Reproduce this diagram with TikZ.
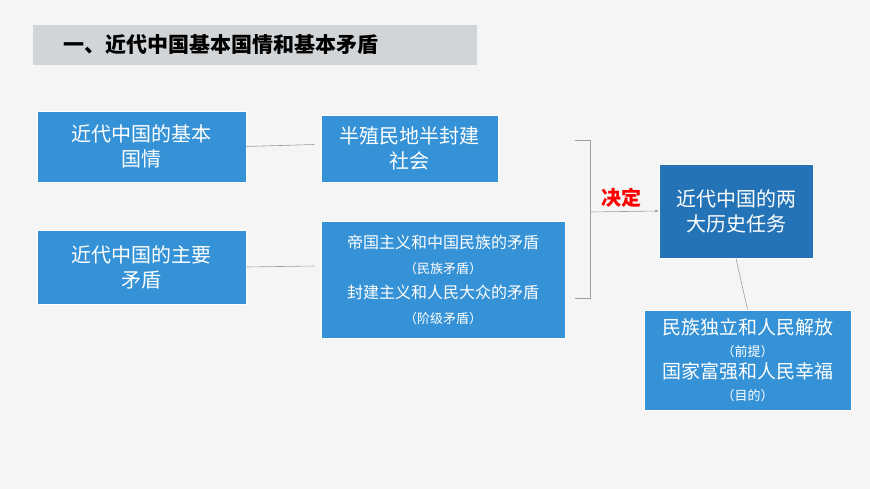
\documentclass[tikz,border=0pt]{standalone}
\usepackage{fontspec}
\setmainfont{Noto Sans CJK SC}
\usetikzlibrary{positioning,arrows.meta}
\definecolor{boxblue}{HTML}{3592D6}
\definecolor{deepblue}{HTML}{2373B6}
\definecolor{bargray}{HTML}{D2D5D8}
\definecolor{linegray}{HTML}{9A9EA2}
\tikzset{
  infobox/.style={fill=boxblue,draw=white,line width=0.8pt,text=white,align=center,inner sep=0pt},
  link/.style={draw=linegray,line width=0.6pt}
}
\begin{document}
\begin{tikzpicture}[x=1pt,y=-1pt,font=\fontsize{20}{25}\selectfont]
\fill[gray!8] (0,0) rectangle (870,489);
\useasboundingbox (0,0) rectangle (870,489);
\node[fill=bargray,minimum width=444pt,minimum height=40pt,anchor=north west,inner sep=0pt] (title) at (33,25) {};
\node[anchor=west,font=\fontsize{21}{25}\selectfont\bfseries] (titletext) at (60,45) {一、近代中国基本国情和基本矛盾};
\node[infobox,minimum width=209pt,minimum height=71pt] (info) at (141.5,146.5) {近代中国的基本\\国情};
\node[infobox,minimum width=209pt,minimum height=74pt] (main) at (141.5,267) {近代中国的主要\\矛盾};
\node[infobox,minimum width=177pt,minimum height=67pt] (society) at (409.5,148.5) {半殖民地半封建\\社会};
\node[infobox,minimum width=244pt,minimum height=117pt,font=\fontsize{16}{25}\selectfont] (conflict) at (443,279.5)
  {帝国主义和中国民族的矛盾\\{\fontsize{13}{16}\selectfont （民族矛盾）}\\封建主义和人民大众的矛盾\\{\fontsize{13}{16}\selectfont （阶级矛盾）}};
\node[infobox,fill=deepblue,minimum width=154pt,minimum height=94pt] (task) at (736,211) {近代中国的两\\大历史任务};
\node[infobox,minimum width=207pt,minimum height=100pt,font=\fontsize{19}{22}\selectfont] (goal) at (747.5,360)
  {民族独立和人民解放\\{\fontsize{13}{16}\selectfont （前提）}\\国家富强和人民幸福\\{\fontsize{13}{16}\selectfont （目的）}};
\coordinate (btop) at (575,140);
\coordinate (bbot) at (575,298);
\coordinate (bmid) at (590,212);
\draw[link] (info.east) -- ++(68,-2);
\draw[link] (main.east) -- ++(68,-1);
\draw[link] (btop) -- ++(15,0) |- (bbot);
\draw[link,-{Stealth[length=4pt]}] (bmid) -- (task.west);
\node[text=red,font=\fontsize{20}{24}\selectfont\bfseries] (decide) at (621,198) {决定};
\draw[link] (task.south) -- (goal.north);
\end{tikzpicture}
\end{document}
